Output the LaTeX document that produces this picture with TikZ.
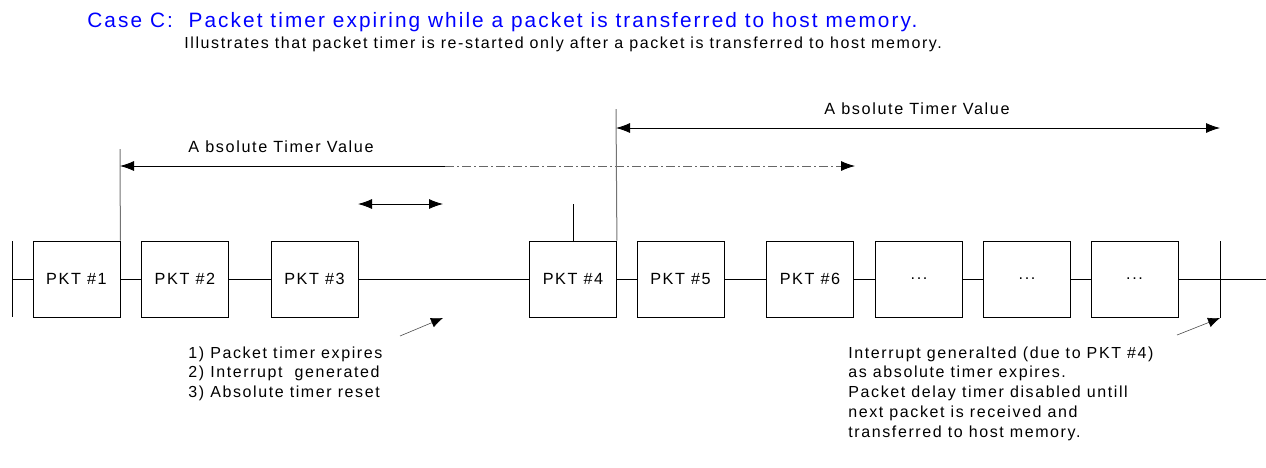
\documentclass[tikz,border=0pt]{standalone}
\usepackage{fontspec}
\setmainfont{Liberation Sans}[LetterSpace=10]
\usepackage{xcolor}
\usetikzlibrary{arrows.meta}

\definecolor{titleblue}{RGB}{0,0,255}
\tikzset{
    pkt/.style={draw, rectangle, minimum width=87pt, minimum height=76pt, inner sep=0pt, font=\fontsize{16.2}{18}\selectfont},
    marker/.style={draw=black!55, line width=1pt},
    timer/.style={line width=0.8pt, {Latex[length=14pt,width=10pt]}-{Latex[length=14pt,width=10pt]}},
    pointer/.style={draw=black!70, line width=0.6pt, -{Latex[length=12pt,width=10pt,black]}},
    note/.style={align=left, inner sep=0pt, font=\fontsize{16}{19.8}\selectfont}
}

\begin{document}
\begin{tikzpicture}[x=1pt, y=-1pt, line width=0.8pt]
    \useasboundingbox (0,0) rectangle (1266,467);

    % Heading
    \node[anchor=base west, inner sep=0pt, text=titleblue, font=\fontsize{20.8}{22}\selectfont] (title) at (87,27)
        {Case C:\ \ Packet timer expiring while a packet is transferred to host memory.};
    \node[anchor=base west, inner sep=0pt, font=\fontsize{16}{18}\selectfont] (subtitle) at (184,48)
        {Illustrates that packet timer is re-started only after a packet is transferred to host memory.};

    % Packets
    \node[pkt] (p1) at (76.5,279) {PKT \#1};
    \node[pkt] (p2) at (185,279) {PKT \#2};
    \node[pkt] (p3) at (314.5,279) {PKT \#3};
    \node[pkt] (p4) at (573,279) {PKT \#4};
    \node[pkt] (p5) at (680.5,279) {PKT \#5};
    \node[pkt] (p6) at (810,279) {PKT \#6};
    \node[pkt] (e1) at (919,279) {...};
    \node[pkt] (e2) at (1027,279) {...};
    \node[pkt] (e3) at (1134.5,279) {...};

    % Time line
    \coordinate (start) at (12,279);
    \coordinate (stop) at (1266,279);
    \draw (start) -- (p1) -- (p2) -- (p3) -- (p4) -- (p5) -- (p6) -- (e1) -- (e2) -- (e3) -- (stop);
    \draw (12,241) -- (12,317);
    \draw (1220,241) -- (1220,318);

    % First absolute timer
    \coordinate (abs1) at (120,166);
    \coordinate (abs1mid) at (445,166);
    \coordinate (abs1end) at (855,166);
    \draw[marker] (p1.north east) -- (120,149);
    \draw[line width=0.8pt, -{Latex[length=14pt,width=10pt]}] (abs1mid) -- (abs1);
    \draw[draw=black!60, line width=0.8pt, dash pattern=on 9pt off 3pt on 2pt off 3pt,
          -{Latex[length=14pt,width=10pt,black]}] (abs1mid) -- (abs1end);
    \node[font=\fontsize{16.2}{18}\selectfont] (abslabel1) at (281,147) {A bsolute Timer Value};

    % Packet timer
    \coordinate (pt1) at (358,204);
    \coordinate (pt2) at (443,204);
    \draw[timer] (pt1) -- (pt2);
    \draw (p4.north) -- ++(0,-37);

    % Second absolute timer
    \coordinate (abs2) at (616,128);
    \coordinate (abs2end) at (1220,128);
    \draw[marker] (p4.north east) -- (616,109);
    \draw[timer] (abs2) -- (abs2end);
    \node[font=\fontsize{16.2}{18}\selectfont] (abslabel2) at (917,109) {A bsolute Timer Value};

    % Events
    \coordinate (ev1) at (443,318);
    \coordinate (ev2) at (1220,318);
    \draw[pointer] (400,336) -- (ev1);
    \draw[pointer] (1177,335) -- (ev2);

    \node[note, anchor=north west] (note1) at (188,346)
        {1) Packet timer expires\\2) Interrupt\ \ generated\\3) Absolute timer reset};
    \node[note, anchor=north west] (note2) at (848,346)
        {Interrupt generalted (due to PKT \#4)\\as absolute timer expires.\\Packet delay timer disabled untill\\next packet is received and\\transferred to host memory.};
\end{tikzpicture}
\end{document}
